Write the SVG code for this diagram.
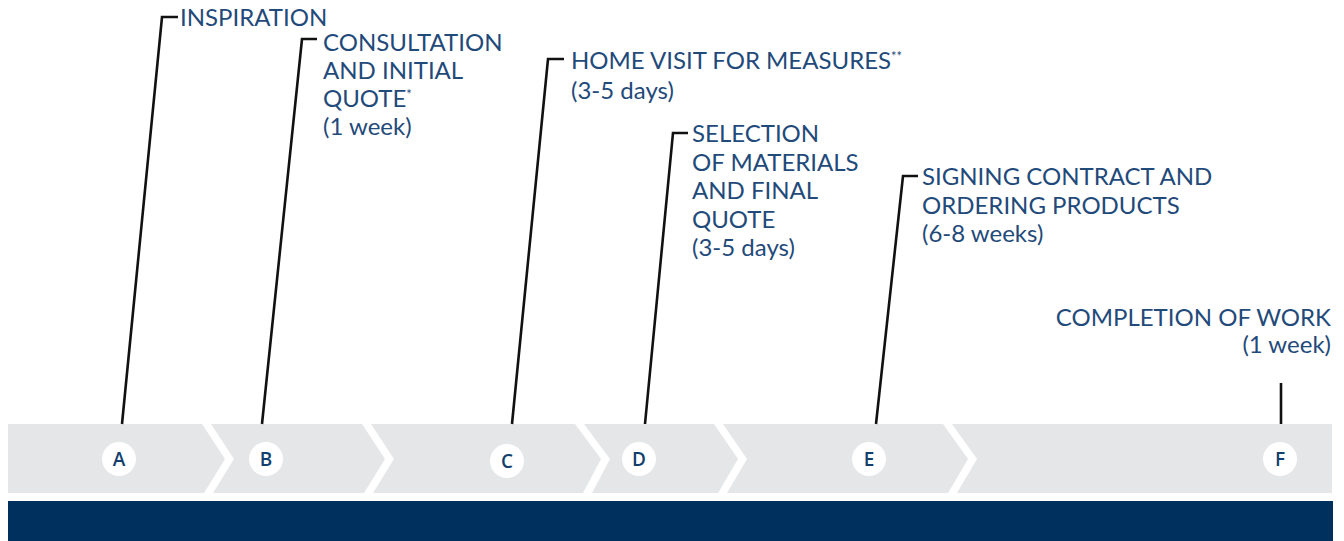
<svg xmlns="http://www.w3.org/2000/svg" width="1344" height="541" viewBox="0 0 1344 541">
<style>
.lbl{font-family:"Lato","Open Sans","Liberation Sans",sans-serif;font-weight:400;font-size:24px;fill:#1f4a7a}
.sup{font-size:13px}
.step{font-family:"Open Sans","Lato","Liberation Sans",sans-serif;font-weight:600;font-size:19px;fill:#123f6d;text-anchor:middle}
.dot{fill:#ffffff}
.conn{fill:none;stroke:#111111;stroke-width:2.6;stroke-linejoin:miter}
.sep{fill:#ffffff}
</style>
<rect x="8" y="424" width="1324" height="69" fill="#e5e6e8"/>
<g id="separators">
<polygon class="sep" points="202,424 211,424 234,459 213,493 204,493 225,459"/>
<polygon class="sep" points="362,424 371,424 394,459 373,493 364,493 385,459"/>
<polygon class="sep" points="575,424 584,424 610,459 592,493 583,493 601,459"/>
<polygon class="sep" points="714,424 723,424 747,459 727,493 718,493 738,459"/>
<polygon class="sep" points="943,424 952,424 977,459 957,493 948,493 968,459"/>
</g>
<rect x="8" y="501" width="1325" height="40" fill="#00305e"/>
<g id="connectors">
<polyline class="conn" points="122,424 162,17 178,17"/>
<polyline class="conn" points="262,424 302,39 317,39"/>
<polyline class="conn" points="512,424 548,59 564,59"/>
<polyline class="conn" points="645,424 673,133 688,133"/>
<polyline class="conn" points="876,424 903,176 918,176"/>
<line class="conn" x1="1281" y1="383" x2="1281" y2="424"/>
</g>
<g id="node-a">
<circle class="dot" cx="119" cy="459" r="17"/>
<text class="step" x="119" y="466">A</text>
<text class="lbl" x="180" y="26">INSPIRATION</text>
</g>
<g id="node-b">
<circle class="dot" cx="266" cy="459" r="17"/>
<text class="step" x="266" y="466">B</text>
<text class="lbl" x="323" y="51">CONSULTATION</text>
<text class="lbl" x="323" y="79">AND INITIAL</text>
<text class="lbl" x="323" y="107">QUOTE<tspan class="sup" dy="-8">*</tspan></text>
<text class="lbl" x="323" y="135">(1 week)</text>
</g>
<g id="node-c">
<circle class="dot" cx="507" cy="461" r="17"/>
<text class="step" x="507" y="468">C</text>
<text class="lbl" x="571" y="69">HOME VISIT FOR MEASURES<tspan class="sup" dy="-8">**</tspan></text>
<text class="lbl" x="571" y="99">(3-5 days)</text>
</g>
<g id="node-d">
<circle class="dot" cx="639" cy="459" r="17"/>
<text class="step" x="639" y="466">D</text>
<text class="lbl" x="692" y="142">SELECTION</text>
<text class="lbl" x="692" y="170.5">OF MATERIALS</text>
<text class="lbl" x="692" y="199">AND FINAL</text>
<text class="lbl" x="692" y="228">QUOTE</text>
<text class="lbl" x="692" y="256">(3-5 days)</text>
</g>
<g id="node-e">
<circle class="dot" cx="869" cy="459" r="17"/>
<text class="step" x="869" y="466">E</text>
<text class="lbl" x="922" y="185">SIGNING CONTRACT AND</text>
<text class="lbl" x="922" y="214">ORDERING PRODUCTS</text>
<text class="lbl" x="922" y="242">(6-8 weeks)</text>
</g>
<g id="node-f">
<circle class="dot" cx="1280" cy="459" r="17"/>
<text class="step" x="1280" y="466">F</text>
<text class="lbl" x="1331" y="326" text-anchor="end">COMPLETION OF WORK</text>
<text class="lbl" x="1331" y="353" text-anchor="end">(1 week)</text>
</g>
</svg>
